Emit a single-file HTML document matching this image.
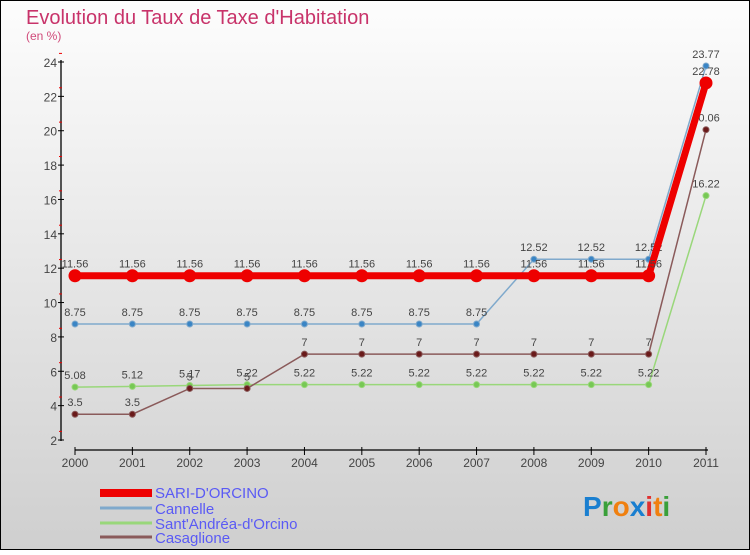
<!DOCTYPE html>
<html><head><meta charset="utf-8"><style>
html,body{margin:0;padding:0}
body{width:750px;height:550px;overflow:hidden;font-family:"Liberation Sans",sans-serif}
</style></head><body>
<svg width="750" height="550" xmlns="http://www.w3.org/2000/svg" font-family="Liberation Sans, sans-serif">
<defs><linearGradient id="bg" x1="0" y1="0" x2="0" y2="1"><stop offset="0" stop-color="#fdfdfd"/><stop offset="1" stop-color="#cfcfcf"/></linearGradient></defs>
<rect x="0.5" y="0.5" width="749" height="549" fill="url(#bg)" stroke="#000"/>
<text x="26" y="24" font-size="20" fill="#c8336a">Evolution du Taux de Taxe d'Habitation</text>
<text x="26" y="40" font-size="12" fill="#d04a7a">(en %)</text>
<g id="axes"></g><g id="series"></g>
<g>
<rect x="100" y="489" width="52" height="8" fill="#e00"/>
<text x="155" y="498" font-size="15" fill="#5a5af5">SARI-D'ORCINO</text>
<line x1="100" y1="508" x2="152" y2="508" stroke="#7fa9cc" stroke-width="3"/>
<text x="155" y="514" font-size="15" fill="#5a5af5">Cannelle</text>
<line x1="100" y1="523" x2="152" y2="523" stroke="#99d77a" stroke-width="3"/>
<text x="155" y="529" font-size="15" fill="#5a5af5">Sant'Andréa-d'Orcino</text>
<line x1="100" y1="537" x2="152" y2="537" stroke="#8a5a5a" stroke-width="3"/>
<text x="155" y="543" font-size="15" fill="#5a5af5">Casaglione</text>
</g>
<text x="583" y="516" font-size="28" font-weight="bold"><tspan fill="#1a7fd0">P</tspan><tspan fill="#3aa03a">r</tspan><tspan fill="#f08010">o</tspan><tspan fill="#1a7fd0">x</tspan><tspan fill="#e03030">i</tspan><tspan fill="#f08010">t</tspan><tspan fill="#3aa03a">i</tspan></text>
</svg>
<script>
const years=[2000,2001,2002,2003,2004,2005,2006,2007,2008,2009,2010,2011];
const sari=[11.56,11.56,11.56,11.56,11.56,11.56,11.56,11.56,11.56,11.56,11.56,22.78];
const cannelle=[8.75,8.75,8.75,8.75,8.75,8.75,8.75,8.75,12.52,12.52,12.52,23.77];
const santandrea=[5.08,5.12,5.17,5.22,5.22,5.22,5.22,5.22,5.22,5.22,5.22,16.22];
const casaglione=[3.5,3.5,5,5,7,7,7,7,7,7,7,20.06];
const yTicks=[2,4,6,8,10,12,14,16,18,20,22,24];
const NS="http://www.w3.org/2000/svg";
function X(i){return 75+i*(706-75)/(years.length-1);}
function Y(v){return 440-(v-2)*(378/22);}
function mk(t,a,p){const e=document.createElementNS(NS,t);for(const k in a)e.setAttribute(k,a[k]);p.appendChild(e);return e;}
const ax=document.getElementById('axes');
let l=mk('line',{x1:61,y1:60,x2:61,y2:441,stroke:'#000','stroke-width':1.3},ax);

yTicks.forEach(v=>{const y=Y(v);
 let t=mk('line',{x1:58,y1:y,x2:64,y2:y,stroke:'#000'},ax);
 
 let m=mk('line',{x1:59,y1:y-8.6,x2:62,y2:y-8.6,stroke:'#e00'},ax);
 
 let tx=mk('text',{x:57,y:y+5,'text-anchor':'end','font-size':12,fill:'#444'},ax);tx.textContent=v;
 });
l=mk('line',{x1:75,y1:450,x2:708,y2:450,stroke:'#000','stroke-width':1.3},ax);

years.forEach((yr,i)=>{const x=X(i);
 let t=mk('line',{x1:x,y1:447,x2:x,y2:455,stroke:'#000'},ax);
 
 let tx=mk('text',{x:x,y:467,'text-anchor':'middle','font-size':12,fill:'#444'},ax);tx.textContent=yr;
 });
const sg=document.getElementById('series');
function draw(vals,color,w,r,name,lab,dot){
 const g=mk('g',{},sg);
 const p=mk('polyline',{points:vals.map((v,i)=>X(i)+','+Y(v)).join(' '),fill:'none',stroke:color,'stroke-width':w},g);
 
 vals.forEach((v,i)=>{const c=mk('circle',{cx:X(i),cy:Y(v),r:r,fill:dot,stroke:color},g);
  
  const t=mk('text',{x:X(i),y:Y(v)-8,'text-anchor':'middle','font-size':11,fill:'#444'},g);t.textContent=v;
  });}
draw(santandrea,'#99d77a',1.5,3,'series-santandrea',1,'#77c855');
draw(casaglione,'#8a5a5a',1.5,3,'series-casaglione',1,'#6a1a1a');
draw(cannelle,'#7fa9cc',1.5,3,'series-cannelle',1,'#3a85c5');
draw(sari,'#e00',7,6,'series-sari',1,'#e00');
</script>
</body></html>
